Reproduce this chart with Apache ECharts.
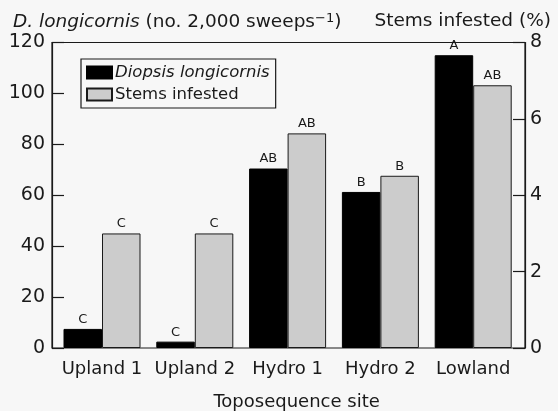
<!DOCTYPE html>
<html>
<head>
<meta charset="utf-8">
<script src="https://cdn.jsdelivr.net/npm/echarts@6/dist/echarts.min.js"></script>
<style>
	html, body { margin: 0; padding: 0; background: #f7f7f7; }
	#chart { width: 558px; height: 411px; }
</style>
</head>
<body>
<div id="chart"></div>
<script>
	// 数据
	const sites = ['Upland 1', 'Upland 2', 'Hydro 1', 'Hydro 2', 'Lowland'];
	const flyCounts = [7.5, 2.5, 70.5, 61.3, 115];      // D. longicornis (no. 2,000 sweeps-1)
	const stemsInfested = [3.0, 3.0, 5.62, 4.51, 6.88]; // %
	const flyLetters = ['C', 'C', 'AB', 'B', 'A'];
	const stemLetters = ['C', 'C', 'AB', 'B', 'AB'];

	const font = 'DejaVu Sans';
	const ink = '#1a1a1a';

	const chart = echarts.init(document.getElementById('chart'));

	// 柱状标签
	function letterLabel(letters) {
		return {
			show: true,
			position: 'top',
			distance: 3,
			fontFamily: font,
			fontSize: 13,
			color: ink,
			formatter: function (p) { return letters[p.dataIndex]; }
		};
	}

	const option = {
		backgroundColor: '#f7f7f7',
		animation: false,
		textStyle: { fontFamily: font, color: ink },
		title: [{
			text: '{i|D. longicornis} (no. 2,000 sweeps{s|−1})',
			left: 8,
			top: 7,
			textStyle: {
				fontFamily: font, fontSize: 18.5, fontWeight: 'normal', color: ink,
				rich: {
					i: { fontFamily: font, fontSize: 18.5, fontStyle: 'italic', color: ink },
					s: { fontFamily: font, fontSize: 13, color: ink, verticalAlign: 'top', padding: [0, 0, 8, 0] }
				}
			}
		}, {
			text: 'Stems infested (%)',
			right: 2,
			top: 7,
			textStyle: { fontFamily: font, fontSize: 18.5, fontWeight: 'normal', color: ink }
		}],
		legend: {
			left: 81,
			top: 59,
			orient: 'vertical',
			itemWidth: 25,
			itemHeight: 12,
			itemGap: 5,
			padding: [5, 6, 5, 5],
			borderColor: ink,
			borderWidth: 1.2,
			icon: 'rect',
			formatter: function (name) {
				return name === 'Diopsis longicornis' ? '{i|' + name + '}' : name;
			},
			textStyle: {
				fontFamily: font, fontSize: 16.5, color: ink, padding: [0, 0, 0, -2],
				rich: { i: { fontFamily: font, fontSize: 16.5, fontStyle: 'italic', color: ink } }
			}
		},
		// 外框 + 两个纵轴；柱子放在稍窄的第二个grid里
		grid: [{
			left: 52,
			right: 33,
			top: 42.5,
			bottom: 63,
			outerBoundsMode: 'none',
			show: true,
			borderColor: ink,
			borderWidth: 1.2,
			backgroundColor: 'transparent'
		}, {
			left: 55.6,
			right: 38.4,
			top: 42.5,
			bottom: 63,
			outerBoundsMode: 'none'
		}],
		xAxis: [{
			gridIndex: 0,
			type: 'value',
			show: false
		}, {
			gridIndex: 1,
			type: 'category',
			data: sites,
			name: 'Toposequence site',
			nameLocation: 'middle',
			nameGap: 45,
			nameTextStyle: { fontFamily: font, fontSize: 18, color: ink, padding: [0, 0, 0, 18] },
			axisLine: { show: false },
			axisTick: { show: false },
			axisLabel: { fontFamily: font, fontSize: 18, color: ink, margin: 12, interval: 0 }
		}],
		yAxis: [{
			gridIndex: 0,
			type: 'value',
			min: 0,
			max: 120,
			interval: 20,
			axisLine: { show: true, lineStyle: { color: ink, width: 1.2 } },
			axisTick: { show: true, inside: true, length: 12, lineStyle: { color: ink, width: 1.2 } },
			axisLabel: { fontFamily: font, fontSize: 19, color: ink, margin: 7 },
			splitLine: { show: false }
		}, {
			gridIndex: 0,
			type: 'value',
			min: 0,
			max: 8,
			interval: 2,
			position: 'right',
			axisLine: { show: true, lineStyle: { color: ink, width: 1.2 } },
			axisTick: { show: true, inside: true, length: 12, lineStyle: { color: ink, width: 1.2 } },
			axisLabel: { fontFamily: font, fontSize: 19, color: ink, margin: 5 },
			splitLine: { show: false }
		}, {
			gridIndex: 1,
			type: 'value',
			min: 0,
			max: 120,
			show: false,
			splitLine: { show: false }
		}, {
			gridIndex: 1,
			type: 'value',
			min: 0,
			max: 8,
			show: false,
			splitLine: { show: false }
		}],
		series: [{
			name: 'Diopsis longicornis',
			type: 'bar',
			xAxisIndex: 1,
			yAxisIndex: 2,
			data: flyCounts,
			barWidth: 38.5,
			barGap: '0%',
			itemStyle: { color: '#000000', borderColor: '#000000', borderWidth: 1 },
			label: letterLabel(flyLetters)
		}, {
			name: 'Stems infested',
			type: 'bar',
			xAxisIndex: 1,
			yAxisIndex: 3,
			data: stemsInfested,
			barWidth: 38.5,
			barGap: '0%',
			itemStyle: { color: '#cccccc', borderColor: ink, borderWidth: 1 },
			label: letterLabel(stemLetters)
		}]
	};

	chart.setOption(option);
</script>
</body>
</html>
